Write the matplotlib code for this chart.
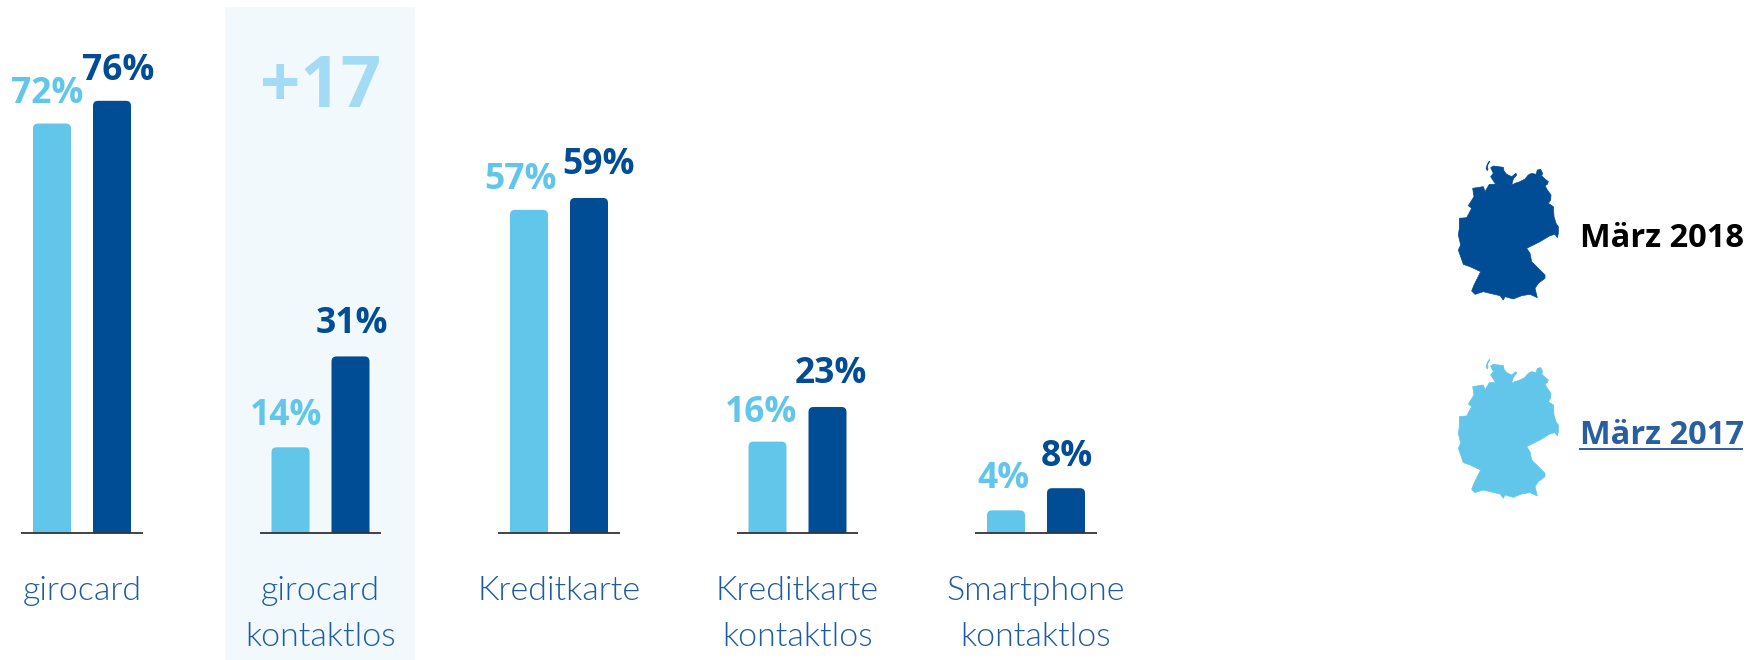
# plot.py
import matplotlib
matplotlib.use('Agg')
from matplotlib import pyplot as plt
from matplotlib.patches import PathPatch, Polygon, Rectangle
from matplotlib.path import Path

categories = ['girocard', 'girocard\nkontaktlos', 'Kreditkarte', 'Kreditkarte\nkontaktlos', 'Smartphone\nkontaktlos']
values_2017 = [72, 14, 57, 16, 4]
values_2018 = [76, 31, 59, 23, 8]
# the drawn bars don't follow the printed numbers exactly
heights_2017 = [72, 15, 56.8, 16, 3.9]
heights_2018 = [76, 31, 58.9, 22.1, 7.8]

LIGHT = '#62c6ea'
DARK = '#004d96'
TEXT_BLUE = '#1c5ba5'
W, H = 1751, 660
PCT = 5.68       # pixels per percent
BASE_Y = 532.5   # baseline in pixels
X0 = 82          # first group center
STEP = 238.5     # group spacing

# label nudges in pixels, the labels don't sit centered on the bars
dx_2017 = [-5, -4, -9, -6, -3]
dx_2018 = [6, 1, 10, 3, 1]
dy_2017 = [21, 22, 21, 20, 22]
dy_2018 = [21, 23, 24, 24, 22]

germany = [(122,38),(130,33),(145,35),(160,37),(162,48),(170,58),(185,65),(198,55),(200,60),(190,72),
           (185,90),(195,85),(210,80),(225,72),(235,60),(245,55),(258,58),(262,45),(272,43),(278,55),
           (275,62),(285,72),(295,80),(292,88),(285,92),(292,105),(303,120),(302,135),(295,145),(310,155),
           (312,185),(318,205),(325,215),(325,235),(322,248),(315,238),(300,242),(270,260),(230,280),
           (240,295),(245,320),(265,340),(285,360),(285,370),(265,385),(255,400),(262,428),(240,418),
           (215,422),(190,432),(165,425),(160,435),(150,422),(120,415),(100,410),(75,418),(65,408),
           (72,390),(92,350),(60,335),(40,328),(32,305),(25,285),(32,270),(25,240),(28,220),(28,190),
           (50,188),(65,160),(55,152),(72,125),(68,100),(100,95),(105,110),(118,88),(135,88),(150,103),
           (135,85),(122,65),(130,55)]
island = [(118,18),(112,28),(108,40),(112,47),(114,42),(112,32),(119,20)]


def rounded_bar(ax, x, width, height, color):
    # bar with rounded top corners only
    rx = 5/STEP
    ry = 5/PCT
    l, r = x-width/2, x+width/2
    verts = [(l, 0), (l, height-ry), (l, height), (l+rx, height), (r-rx, height),
             (r, height), (r, height-ry), (r, 0), (l, 0)]
    codes = [Path.MOVETO, Path.LINETO, Path.CURVE3, Path.CURVE3, Path.LINETO,
             Path.CURVE3, Path.CURVE3, Path.LINETO, Path.CLOSEPOLY]
    ax.add_patch(PathPatch(Path(verts, codes), facecolor=color, edgecolor='none', zorder=2))


def draw_map(ax, dy, color):
    for outline in (germany, island):
        pts = [(1450+x/3, 155+y/3+dy) for x, y in outline]
        ax.add_patch(Polygon(pts, closed=True, facecolor=color, edgecolor=color, linewidth=0.5))


def main():
    plt.rcParams['font.family'] = ['Open Sans', 'DejaVu Sans']
    fig = plt.figure(figsize=(W/100, H/100), dpi=100)

    # background layer in pixel coordinates
    bg = fig.add_axes([0, 0, 1, 1])
    bg.set(xlim=(0, W), ylim=(H, 0))
    bg.axis('off')
    bg.add_patch(Rectangle((225, 7), 190, 653, facecolor='#f1f9fd', edgecolor='none'))
    bg.text(320.5, 107, '+17', color='#a2dbf3', fontsize=51, fontweight='bold', ha='center', va='baseline')

    for i, cat in enumerate(categories):
        for j, line in enumerate(cat.split('\n')):
            bg.text(X0+STEP*i, 600+46*j, line, color=TEXT_BLUE, fontsize=24.5, fontweight=300,
                    family=['Lato', 'DejaVu Sans'], ha='center', va='baseline')

    draw_map(bg, 0, DARK)
    draw_map(bg, 198.3, LIGHT)
    bg.text(1580, 247, 'März 2018', color='black', fontsize=23.5, fontweight='bold', ha='left', va='baseline')
    bg.text(1580, 444, 'März 2017', color='#2a5f9f', fontsize=23.5, fontweight='bold', ha='left', va='baseline')
    bg.plot([1579, 1743], [449, 449], color='#2a5f9f', lw=1.4, solid_capstyle='butt')

    # bars, y is percent and x is group index
    ax = fig.add_axes([0, (H-BASE_Y)/H, 1, BASE_Y/H])
    ax.set(xlim=(-X0/STEP, (W-X0)/STEP), ylim=(0, BASE_Y/PCT))
    ax.axis('off')
    ax.patch.set_alpha(0)
    off = 30/STEP
    width = 38/STEP
    for i in range(len(categories)):
        rounded_bar(ax, i-off, width, heights_2017[i], LIGHT)
        rounded_bar(ax, i+off, width, heights_2018[i], DARK)
        ax.plot([i-0.254, i+0.254], [0, 0], color='#222222', lw=1.2, clip_on=False, zorder=3,
                solid_capstyle='butt')
        ax.annotate('{}%'.format(values_2017[i]), (i-off, heights_2017[i]),
                    xytext=(dx_2017[i]*0.72, dy_2017[i]*0.72), textcoords='offset points',
                    color=LIGHT, fontsize=25.5, fontweight='bold', ha='center', va='baseline')
        ax.annotate('{}%'.format(values_2018[i]), (i+off, heights_2018[i]),
                    xytext=(dx_2018[i]*0.72, dy_2018[i]*0.72), textcoords='offset points',
                    color=DARK, fontsize=25.5, fontweight='bold', ha='center', va='baseline')

    fig.savefig('out.png', dpi=100)
    plt.close(fig)


if __name__ == "__main__":
    main()
